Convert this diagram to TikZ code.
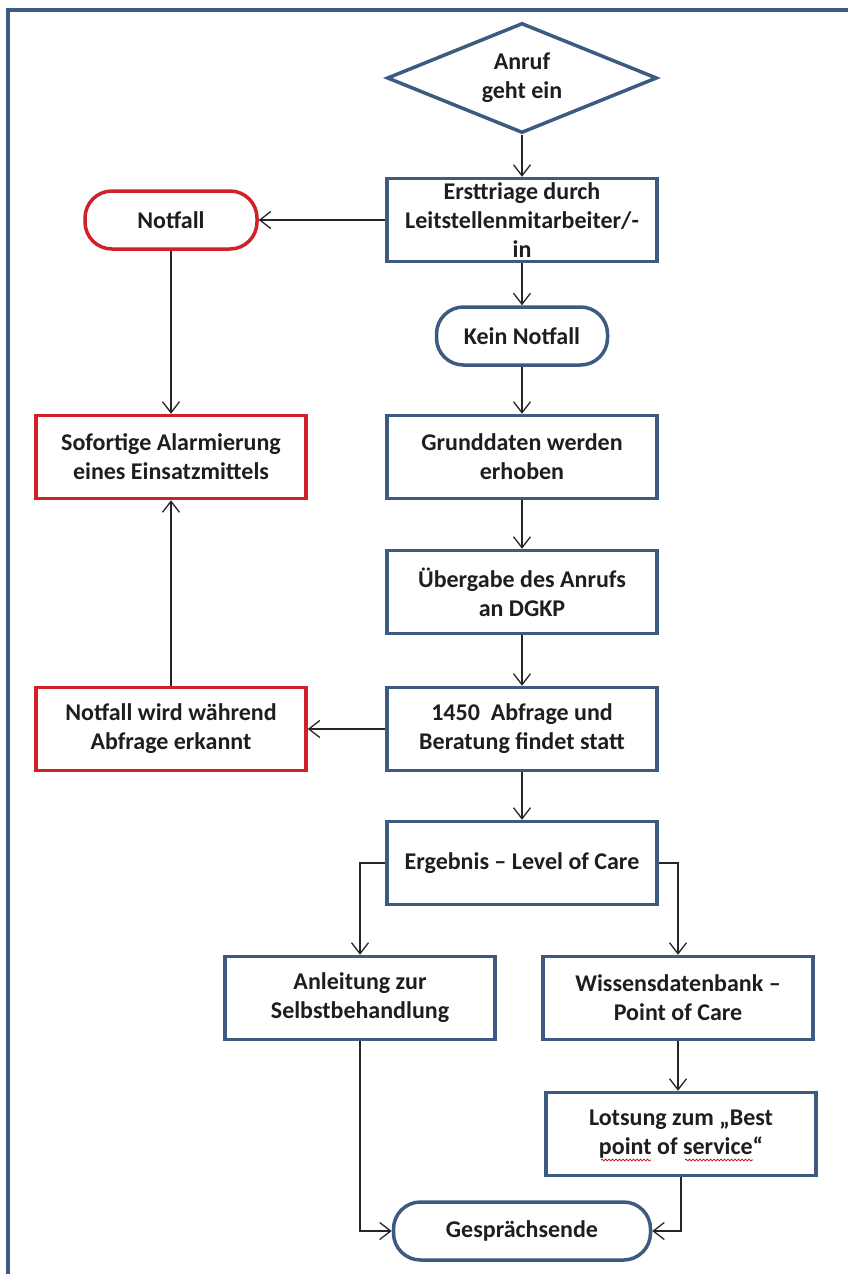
\documentclass[tikz,border=0pt]{standalone}
\usepackage{fontspec}
\setmainfont{Carlito}
\usepackage{tikz}
\usetikzlibrary{arrows.meta,positioning,shapes.geometric,decorations.pathmorphing}
\definecolor{boxblue}{HTML}{3D5A80}
\definecolor{alarmred}{HTML}{D0202A}
\definecolor{txtgray}{HTML}{1E1E1E}
\tikzset{%
	process/.style   = {draw=boxblue, line width=3.5pt, rectangle, minimum width=270pt, minimum height=83pt, inner sep=1pt, align=center, text=txtgray},
	alarm/.style     = {process, draw=alarmred}, % Notfallweg
	startstop/.style = {draw=boxblue, line width=3.5pt, rectangle, rounded corners=27pt, minimum height=58pt, inner sep=1pt, align=center, text=txtgray},
	notstop/.style   = {startstop, draw=alarmred}, % Notfall
	decision/.style  = {draw=boxblue, line width=3.5pt, diamond, aspect=2.45, minimum width=270pt, minimum height=110pt, inner sep=1pt, align=center, text=txtgray},
	flow/.style      = {line width=1.3pt, draw=black!85},
	frame/.style     = {draw=boxblue, line width=4pt},
	spell/.style     = {draw=red!80!black, line width=0.7pt, decorate, decoration={snake, amplitude=0.9pt, segment length=3.5pt}},
}

\begin{document}
\begin{tikzpicture}[node distance=120pt,auto,>={Straight Barb[length=11pt,width=17pt]},font=\fontsize{24}{29}\selectfont\bfseries]
	\useasboundingbox (0,0) rectangle (848pt,-1274pt);
	\draw[frame] (8pt,-1274pt) -- (8pt,-10pt) -- (848pt,-10pt);

	\node [decision] (anruf) at (522pt,-78pt) {Anruf\\geht ein};
	\node [process] (triage) [below of=anruf,node distance=142pt] {Ersttriage durch\\Leitstellenmitarbeiter/-\\in};
	\node [notstop,minimum width=172pt] (notfall) [left of=triage,node distance=351pt] {Notfall};
	\node [startstop,minimum width=171pt] (kein) [below of=triage,node distance=116pt] {Kein Notfall};
	\node [process] (grund) [below of=kein,node distance=121pt] {Grunddaten werden\\erhoben};
	\node [alarm] (sofort) [left of=grund,node distance=351pt] {Sofortige Alarmierung\\eines Einsatzmittels};
	\node [process] (uebergabe) [below of=grund,node distance=135pt] {Übergabe des Anrufs\\an DGKP};
	\node [process] (abfrage) [below of=uebergabe,node distance=137pt] {1450\ \ Abfrage und\\Beratung findet statt};
	\node [alarm] (erkannt) [left of=abfrage,node distance=351pt] {Notfall wird während\\Abfrage erkannt};
	\node [process] (ergebnis) [below of=abfrage,node distance=134pt] {Ergebnis – Level of Care};
	\node [process] (anleitung) [below of=ergebnis,node distance=135pt,xshift=-162pt] {Anleitung zur\\Selbstbehandlung};
	\node [process] (wissen) [right of=anleitung,node distance=318pt] {Wissensdatenbank –\\Point of Care};
	\node [process] (lotsung) [below of=wissen,node distance=136pt,xshift=3pt] {Lotsung zum „Best\\point of service“};
	\node [startstop,minimum width=257pt] (ende) [below of=ergebnis,node distance=368pt] {Gesprächsende};

	% Rechtschreibmarken
	\draw[spell] ([xshift=-80pt,yshift=-26pt]lotsung.center) -- ++(50pt,0);
	\draw[spell] ([xshift=4pt,yshift=-26pt]lotsung.center) -- ++(68pt,0);

	\draw[flow,->] (anruf) -- (triage);
	\draw[flow,->] (triage) -- (notfall);
	\draw[flow,->] (triage) -- (kein);
	\draw[flow,->] (notfall) -- (sofort);
	\draw[flow,->] (kein) -- (grund);
	\draw[flow,->] (grund) -- (uebergabe);
	\draw[flow,->] (uebergabe) -- (abfrage);
	\draw[flow,->] (abfrage) -- (erkannt);
	\draw[flow,->] (erkannt) -- (sofort);
	\draw[flow,->] (abfrage) -- (ergebnis);
	\draw[flow,->] (ergebnis) -| (anleitung);
	\draw[flow,->] (ergebnis) -| (wissen);
	\draw[flow,->] (wissen.south) -- (wissen.south |- lotsung.north);
	\draw[flow,->] (anleitung) |- (ende);
	\draw[flow,->] (lotsung) |- (ende);
\end{tikzpicture}
\end{document}
